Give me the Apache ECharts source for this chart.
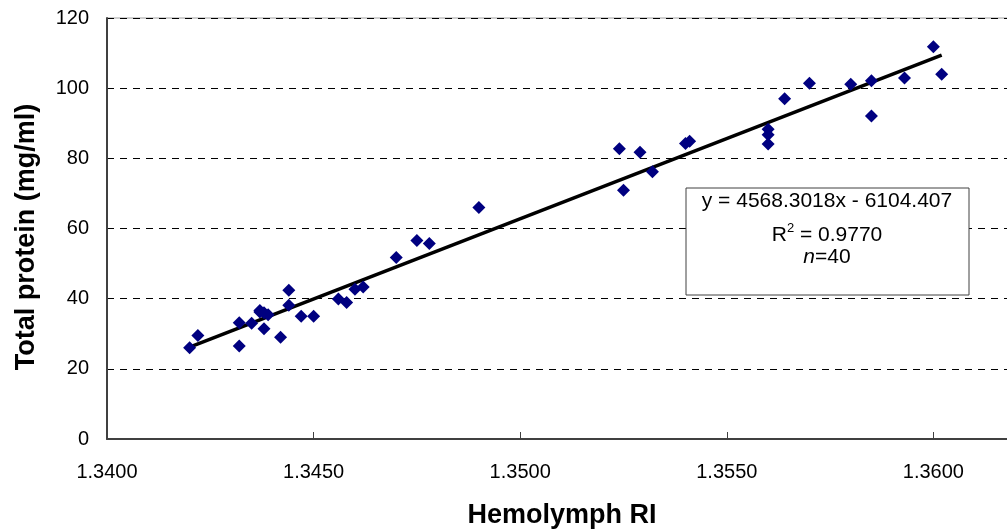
<!DOCTYPE html>
<html>
<head>
<meta charset="utf-8">
<script src="https://cdn.jsdelivr.net/npm/echarts@6/dist/echarts.min.js"></script>
<style>
  html, body { margin: 0; padding: 0; background: #fff; }
  #chart { width: 1007px; height: 531px; }
</style>
</head>
<body>
<div id="chart"></div>
<script>
// hemolymph RI readings and total protein (mg/ml)
var ri_values = [
  1.3420, 1.3422, 1.3432, 1.3432, 1.3435, 1.3437, 1.3438, 1.3439, 1.3438, 1.3442,
  1.3444, 1.3444, 1.3447, 1.3450, 1.3456, 1.3458, 1.3460, 1.3462, 1.3470, 1.3475,
  1.3478, 1.3490, 1.3524, 1.3525, 1.3529, 1.3532, 1.3540, 1.3541, 1.3560, 1.3560,
  1.3560, 1.3564, 1.3570, 1.3580, 1.3585, 1.3585, 1.3593, 1.3600, 1.3602, 1.3437
]
var protein_values = [
  26.0, 29.5, 33.1, 26.5, 33.0, 36.6, 36.0, 35.4, 31.4, 29.0,
  42.4, 38.1, 35.0, 35.0, 39.9, 38.9, 42.7, 43.3, 51.7, 56.6,
  55.7, 66.0, 82.7, 70.9, 81.7, 76.2, 84.2, 84.9, 88.3, 86.7,
  84.1, 97.0, 101.4, 101.1, 102.1, 92.1, 102.9, 111.8, 104.0, 36.2
]
// linear trend line ends
var trend_x = [1.3420, 1.3602]
var trend_y = [26.2, 109.4]

var y_ticks = [0, 20, 40, 60, 80, 100, 120]

var points = ri_values.map(function(x, i){ return [x, protein_values[i]] })
var trend = trend_x.map(function(x, i){ return [x, trend_y[i]] })

var chart_div = echarts.init(document.getElementById('chart'))

var option = {
    animation: false,
    backgroundColor: '#fff',
    grid: {
        left: 107,
        top: 18,
        bottom: 92,
        right: -133,
        outerBoundsMode: 'none',
        containLabel: false,
        show: true,
        borderColor: '#a0a0a0',
        borderWidth: 1
    },
    xAxis: {
        type: 'value',
        min: 1.34,
        max: 1.365,
        interval: 0.005,
        axisLine: { show: true, onZero: false, lineStyle: { color: '#404040', width: 2 } },
        axisTick: { show: true, inside: true, length: 7, lineStyle: { color: '#404040', width: 1 } },
        splitLine: { show: false },
        axisLabel: {
            margin: 23,
            color: '#000',
            fontFamily: 'Liberation Sans, Arial, sans-serif',
            fontSize: 20,
            formatter: function(v){ return v.toFixed(4) }
        }
    },
    yAxis: {
        type: 'value',
        min: y_ticks[0],
        max: y_ticks[y_ticks.length - 1],
        interval: 20,
        axisLine: { show: true, lineStyle: { color: '#404040', width: 2 } },
        axisTick: { show: false },
        splitLine: {
            show: true,
            lineStyle: { color: '#000', width: 1, type: [7, 6] }
        },
        axisLabel: {
            margin: 18,
            color: '#000',
            fontFamily: 'Liberation Sans, Arial, sans-serif',
            fontSize: 20
        }
    },
    series: [
        {
            type: 'line',
            data: trend,
            symbol: 'none',
            lineStyle: { color: '#000', width: 3.5 },
            z: 3
        },
        {
            type: 'scatter',
            data: points,
            symbol: 'diamond',
            symbolSize: 13,
            itemStyle: { color: '#000080', opacity: 1 },
            z: 4
        }
    ],
    graphic: [
        {
            type: 'rect',
            shape: { x: 686, y: 188, width: 283, height: 107 },
            style: { fill: '#fff', stroke: '#404040', lineWidth: 1 },
            z: 10
        },
        {
            type: 'text',
            x: 827,
            y: 201,
            style: {
                text: 'y = 4568.3018x - 6104.407',
                fill: '#000',
                font: '21px "Liberation Sans", Arial, sans-serif',
                align: 'center',
                verticalAlign: 'middle'
            },
            z: 11
        },
        {
            type: 'text',
            x: 827,
            y: 234,
            style: {
                text: '{r|R}{s|2}{r| = 0.9770}',
                align: 'center',
                verticalAlign: 'middle',
                rich: {
                    r: { fontSize: 21, fontFamily: 'Liberation Sans, Arial, sans-serif', color: '#000', lineHeight: 24, verticalAlign: 'bottom' },
                    s: { fontSize: 13, fontFamily: 'Liberation Sans, Arial, sans-serif', color: '#000', lineHeight: 24, verticalAlign: 'top' }
                }
            },
            z: 11
        },
        {
            type: 'text',
            x: 827,
            y: 257,
            style: {
                text: '{i|n}{r|=40}',
                align: 'center',
                verticalAlign: 'middle',
                rich: {
                    i: { fontSize: 21, fontStyle: 'italic', fontFamily: 'Liberation Sans, Arial, sans-serif', color: '#000' },
                    r: { fontSize: 21, fontFamily: 'Liberation Sans, Arial, sans-serif', color: '#000' }
                }
            },
            z: 11
        },
        {
            type: 'text',
            x: 562,
            y: 516,
            style: {
                text: 'Hemolymph RI',
                fill: '#000',
                font: 'bold 27px "Liberation Sans", Arial, sans-serif',
                align: 'center',
                verticalAlign: 'middle'
            }
        },
        {
            type: 'text',
            x: 27,
            y: 237,
            rotation: Math.PI / 2,
            style: {
                text: 'Total protein (mg/ml)',
                fill: '#000',
                font: 'bold 27px "Liberation Sans", Arial, sans-serif',
                align: 'center',
                verticalAlign: 'middle'
            }
        }
    ]
}

chart_div.setOption(option)
</script>
</body>
</html>
